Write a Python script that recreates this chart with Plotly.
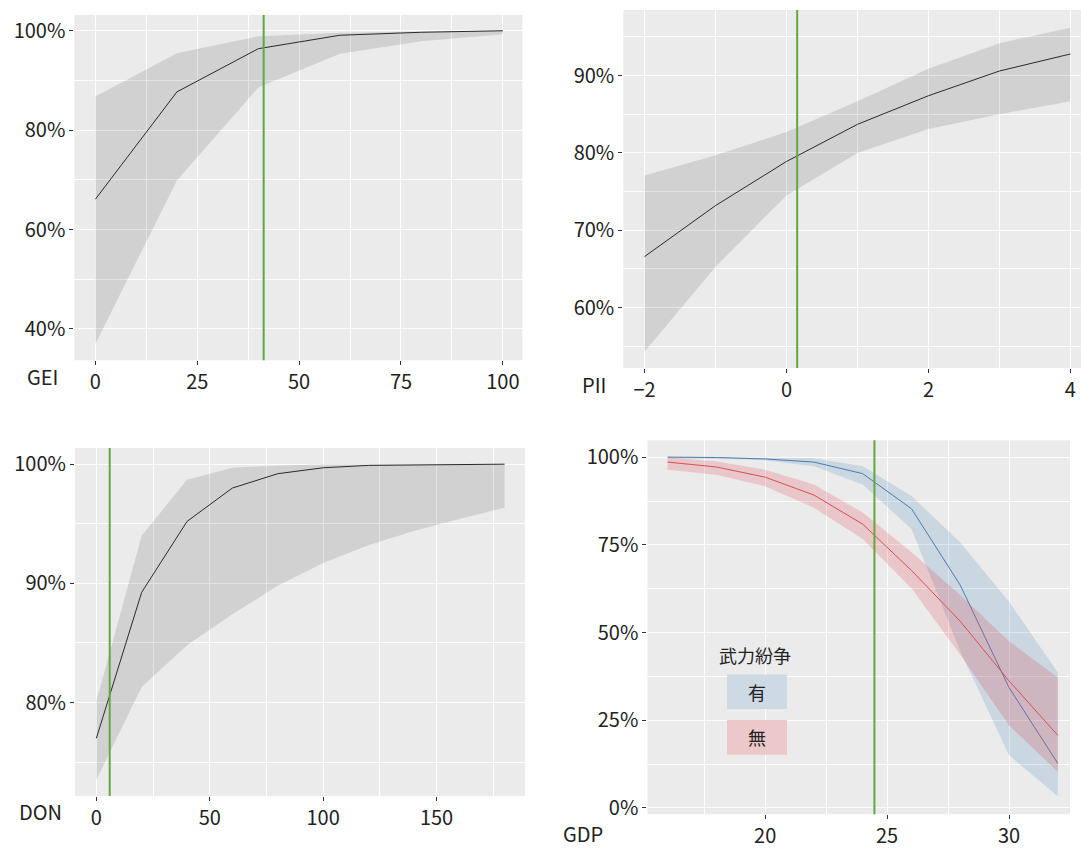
import plotly.graph_objects as go

# ---------------- data ----------------
GEI_x = [0, 20, 40, 60, 80, 100]
GEI_mean = [66.1, 87.7, 96.4, 99.1, 99.7, 100.0]
GEI_upper = [86.8, 95.5, 98.9, 99.6, 99.85, 100.0]
GEI_lower = [37.0, 69.9, 88.6, 95.4, 97.9, 99.3]
GEI_ref = 41.3

PII_x = [-2, -1, 0, 1, 2, 3, 4]
PII_mean = [66.6, 73.2, 78.9, 83.7, 87.4, 90.6, 92.8]
PII_upper = [77.1, 79.7, 82.7, 86.7, 90.9, 94.2, 96.2]
PII_lower = [54.3, 65.3, 74.5, 80.0, 83.1, 85.0, 86.7]
PII_ref = 0.15

DON_x = [0, 20, 40, 60, 80, 100, 120, 140, 160, 180]
DON_mean = [77.0, 89.25, 95.2, 98.0, 99.2, 99.7, 99.9, 99.95, 100.0, 100.0]
DON_upper = [80.1, 94.0, 98.7, 99.7, 99.9, 100.0, 100.0, 100.0, 100.0, 100.0]
DON_lower = [73.5, 81.3, 84.8, 87.4, 89.8, 91.7, 93.2, 94.4, 95.4, 96.35]
DON_ref = 5.9

GDP_x = [16, 18, 20, 22, 24, 26, 28, 30, 32]
GDP_yes_mean = [100.0, 99.9, 99.5, 98.6, 95.3, 85.3, 63.5, 34.3, 12.7]
GDP_yes_upper = [100.2, 100.1, 100.0, 99.7, 97.4, 88.9, 75.7, 58.8, 38.6]
GDP_yes_lower = [99.7, 99.6, 99.1, 97.4, 92.2, 79.5, 44.7, 15.0, 3.3]
GDP_no_mean = [98.6, 97.2, 94.3, 89.2, 80.9, 67.7, 53.2, 36.2, 20.7]
GDP_no_upper = [100.0, 98.8, 96.4, 92.2, 84.2, 72.9, 60.7, 47.5, 37.2]
GDP_no_lower = [96.4, 95.0, 91.7, 85.6, 76.7, 62.6, 43.7, 23.5, 10.3]
GDP_ref = 24.48

legend_title = "武力紛争"
group_labels = ["有", "無"]
axis_names = ["GEI", "PII", "DON", "GDP"]

# ---------------- style ----------------
W, H = 1081, 849
FONT = "Noto Sans CJK JP, Noto Sans, sans-serif"
TXT = "#222222"
BAND = "rgba(0,0,0,0.11)"
GREEN = "#62A83C"
BLUE_LINE = "#4A7DB3"
RED_LINE = "#D9504F"
BLUE_BAND = "rgba(70,130,180,0.20)"
RED_BAND = "rgba(225,70,80,0.22)"
FS = 20


def px(x):
    return x / W


def py(y):
    return 1 - y / H


fig = go.Figure()


def add_band(xs, lo, hi, mean, xa, ya, fill, line_color, name):
    fig.add_trace(go.Scatter(x=xs, y=lo, mode="lines", line=dict(width=0),
                             xaxis=xa, yaxis=ya, showlegend=False, hoverinfo="skip"))
    fig.add_trace(go.Scatter(x=xs, y=hi, mode="lines", line=dict(width=0),
                             fill="tonexty", fillcolor=fill,
                             xaxis=xa, yaxis=ya, showlegend=False, hoverinfo="skip"))
    fig.add_trace(go.Scatter(x=xs, y=mean, mode="lines", name=name,
                             line=dict(color=line_color, width=1),
                             xaxis=xa, yaxis=ya, showlegend=False))


add_band(GEI_x, GEI_lower, GEI_upper, GEI_mean, "x", "y", BAND, "#2a2a2a", "GEI")
add_band(PII_x, PII_lower, PII_upper, PII_mean, "x2", "y2", BAND, "#2a2a2a", "PII")
add_band(DON_x, DON_lower, DON_upper, DON_mean, "x3", "y3", BAND, "#2a2a2a", "DON")
add_band(GDP_x, GDP_yes_lower, GDP_yes_upper, GDP_yes_mean, "x4", "y4", BLUE_BAND, BLUE_LINE, group_labels[0])
add_band(GDP_x, GDP_no_lower, GDP_no_upper, GDP_no_mean, "x4", "y4", RED_BAND, RED_LINE, group_labels[1])

# panel definitions: pixel domains and ranges
panels = [
    # (xdomain px, ydomain px (top,bottom), xrange, yrange, xdtick, xminor, ydtick, yminor)
    ((74.4, 522.4), (15, 363.3), (-5.15, 104.8), (33.7, 103.2), 25, 12.5, 20, 10),
    ((623.3, 1081), (10, 371), (-2.3, 4.15), (52.2, 98.5), 2, 1, 10, 5),
    ((75, 525), (451.7, 802.5), (-9.4, 189), (72.17, 101.36), 50, 25, 10, 5),
    ((647.4, 1070), (444, 821), (15.17, 32.5), (-1.8, 104.8), 5, 2.5, 25, 12.5),
]

layout = dict(
    width=W, height=H, margin=dict(l=0, r=0, t=0, b=0),
    paper_bgcolor="white", plot_bgcolor="#EBEBEB",
    font=dict(family=FONT, color=TXT, size=FS),
    showlegend=False,
)

for i, (xd, yd, xr, yr, xdt, xmi, ydt, ymi) in enumerate(panels):
    sfx = "" if i == 0 else str(i + 1)
    common = dict(showline=False, zeroline=False, ticks="outside", ticklen=4,
                  tickwidth=1, tickcolor="#333333", gridcolor="white", gridwidth=1.3,
                  tickfont=dict(family=FONT, size=FS, color=TXT), fixedrange=True)
    layout["xaxis" + sfx] = dict(
        common, domain=[px(xd[0]), min(1.0, px(xd[1]))], range=list(xr),
        anchor="y" + sfx, tickmode="linear", tick0=0, dtick=xdt,
        minor=dict(tick0=0, dtick=xmi, showgrid=True, gridcolor="white", gridwidth=0.6, ticks=""),
    )
    layout["yaxis" + sfx] = dict(
        common, domain=[py(yd[1]), py(yd[0])], range=list(yr),
        anchor="x" + sfx, tickmode="linear", tick0=0, dtick=ydt, ticksuffix="%",
        minor=dict(tick0=0, dtick=ymi, showgrid=True, gridcolor="white", gridwidth=0.6, ticks=""),
    )

fig.update_layout(**layout)

# reference (green) vertical lines
refs = [GEI_ref, PII_ref, DON_ref, GDP_ref]
for i, r in enumerate(refs):
    sfx = "" if i == 0 else str(i + 1)
    fig.add_shape(type="line", xref="x" + sfx, yref="y" + sfx + " domain",
                  x0=r, x1=r, y0=0, y1=1, line=dict(color=GREEN, width=2))

# axis name labels at the left of the x tick label row
name_pos = [(42, 380), (594, 388), (40, 818), (583, 840)]
for name, (xx, yy) in zip(axis_names, name_pos):
    fig.add_annotation(text=name, x=px(xx), y=py(yy), xref="paper", yref="paper",
                       showarrow=False, font=dict(family=FONT, size=FS, color=TXT),
                       xanchor="center", yanchor="middle")

# manual legend inside GDP panel
fig.add_annotation(text=legend_title, x=px(755), y=py(660), xref="paper", yref="paper",
                   showarrow=False, xanchor="center", yanchor="middle",
                   font=dict(family=FONT, size=18, color=TXT))
key_boxes = [((727, 787), (680, 715), "#CDD9E3"), ((727, 787), (726, 761), "#EDC8CB")]
for (kx, ky, col), lab in zip(key_boxes, group_labels):
    fig.add_shape(type="rect", xref="paper", yref="paper",
                  x0=px(kx[0]), x1=px(kx[1]), y0=py(ky[1]), y1=py(ky[0]),
                  fillcolor=col, line=dict(width=0), layer="above")
    fig.add_annotation(text=lab, x=px((kx[0] + kx[1]) / 2), y=py((ky[0] + ky[1]) / 2),
                       xref="paper", yref="paper", showarrow=False,
                       xanchor="center", yanchor="middle",
                       font=dict(family=FONT, size=18, color=TXT))

fig.write_html("out.html", config={"displayModeBar": False},
               post_script="document.body.style.margin='0';document.body.style.overflow='hidden';")
